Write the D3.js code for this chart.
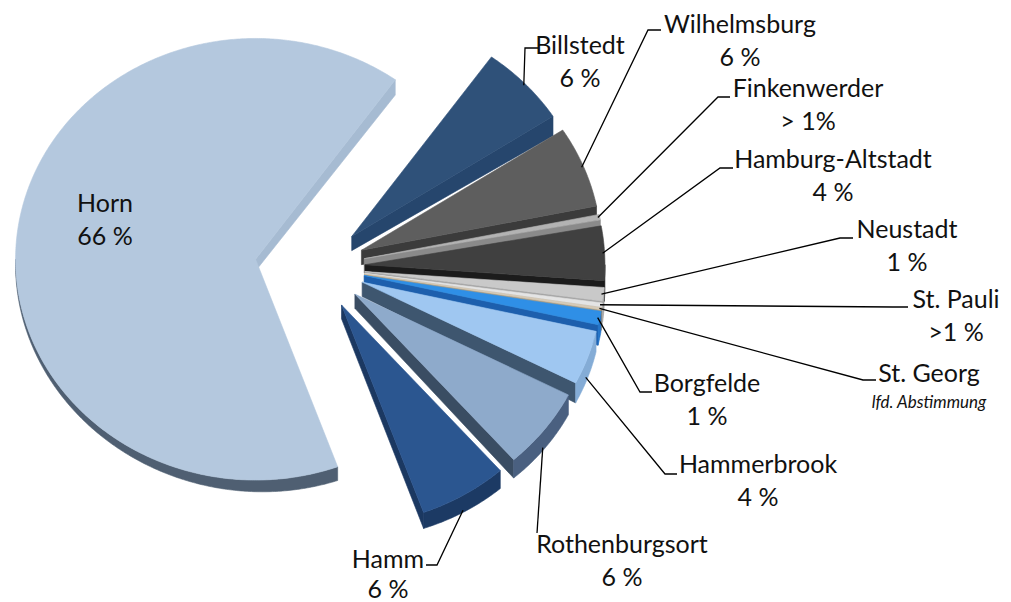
<!DOCTYPE html>
<html>
<head>
<meta charset="utf-8">
<script src="https://cdn.jsdelivr.net/npm/d3@7"></script>
<style>
  html, body { margin: 0; padding: 0; background: #ffffff; }
  svg { display: block; font-family: Lato, "Open Sans", sans-serif; }
</style>
</head>
<body>
<svg id="chart" width="1011" height="602"></svg>
<script>
// Districts and their shares (percent)
const districts = ["Horn", "Billstedt", "Wilhelmsburg", "Finkenwerder", "Hamburg-Altstadt",
  "Neustadt", "St. Pauli", "St. Georg", "Borgfelde", "Hammerbrook", "Rothenburgsort", "Hamm"];
const shares = [66, 6, 6, 0.4, 4, 1, 0.3, 0.15, 1, 4, 6, 6];
const shareLabels = ["66 %", "6 %", "6 %", "> 1%", "4 %", "1 %", ">1 %", "lfd. Abstimmung",
  "1 %", "4 %", "6 %", "6 %"];

// Slice colours: top face, cut (radial) faces, outer rim
const topColors  = ["#b4c8de", "#2f5179", "#5e5e5e", "#b3b3b3", "#404040", "#c9c9c9",
  "#e4e4e4", "#d6cbb8", "#2f8fe6", "#9fc7f1", "#8eaacb", "#2b5690"];
const sideColors = ["#a6bbd2", "#26466d", "#3b3b3b", "#8a8a8a", "#1c1c1c", "#a2a2a2",
  "#bbb4a6", "#b0a083", "#1d5fad", "#3e566f", "#3a4d63", "#1b3861"];
const rimColors  = ["#4f5f72", "#1f3a5c", "#3a3a3a", "#8a8a8a", "#202020", "#a0a0a0",
  "#b0b0b0", "#998a70", "#2474c8", "#84acd6", "#4a6080", "#1c3a64"];

// Pie geometry
const cx = 317, cy = 267, R = 240, ky = 0.92;
const explodeBy = [62, 48, 48, 48, 48, 48, 48, 48, 48, 48, 48, 48];
const depthAt = x => 5 + 0.026 * x;   // extrusion grows towards the right (perspective)
const deg = Math.PI / 180, TAU = 2 * Math.PI;
const startAngle = 160 * deg;

// Label placement (text centre, first baseline, leader elbow and end)
const labelLayout = [
  { x: 105, y: 212 },
  { x: 580, y: 54,  elbow: [525, 48],  end: [538, 48] },
  { x: 740, y: 33,  elbow: [648, 30],  end: [661, 30] },
  { x: 808, y: 97,  elbow: [718, 97],  end: [730, 97] },
  { x: 833, y: 168, elbow: [720, 168], end: [733, 168] },
  { x: 907, y: 238, elbow: [840, 238], end: [853, 238] },
  { x: 956, y: 308, elbow: [893, 307], end: [908, 307] },
  { x: 929, y: 382, elbow: [863, 380], end: [876, 380], note: true },
  { x: 707, y: 392, elbow: [640, 392], end: [652, 392] },
  { x: 758, y: 473, elbow: [665, 474], end: [677, 474] },
  { x: 622, y: 553, elbow: [537, 533], end: [537, 533] },
  { x: 388, y: 568, elbow: [437, 565], end: [426, 565], gap: 30 }
];

const svg = d3.select("#chart");

function pt(c, a, r) { return [c[0] + r * Math.sin(a), c[1] - r * Math.cos(a) * ky]; }
function down(p) { return [p[0], p[1] + depthAt(p[0])]; }
function arcPts(c, a0, a1) {
  const n = Math.max(2, Math.ceil((a1 - a0) / (0.5 * deg)));
  return d3.range(n + 1).map(k => pt(c, a0 + (a1 - a0) * k / n, R));
}

const pie = d3.pie().sort(null).value(d => d)
  .startAngle(startAngle).endAngle(startAngle + TAU);

const slices = pie(shares).map((d, i) => {
  const mid = (d.startAngle + d.endAngle) / 2;
  return { ...d, i, mid, c: pt([cx, cy], mid, explodeBy[i]) };
});

const closed = d3.line().curve(d3.curveLinearClosed);

// Side faces (cut faces and outer rim) that face the viewer
const sides = [];
slices.forEach(s => {
  [[s.startAngle, -1], [s.endAngle, 1]].forEach(([a, sgn]) => {
    if (sgn * Math.sin(a) > 1e-6) {
      const p = pt(s.c, a, R);
      sides.push({ poly: [s.c, p, down(p), down(s.c)], fill: sideColors[s.i] });
    }
  });
  for (let k = 0; k < 3; k++) {
    const lo = Math.max(s.startAngle, Math.PI / 2 + k * TAU);
    const hi = Math.min(s.endAngle, 1.5 * Math.PI + k * TAU);
    if (hi > lo) {
      const top = arcPts(s.c, lo, hi);
      const bottom = top.map(down).reverse();
      sides.push({ poly: top.concat(bottom), fill: rimColors[s.i] });
    }
  }
});
sides.forEach(f => { f.key = d3.mean(f.poly, p => p[1]); });
sides.sort((a, b) => a.key - b.key);

const g = svg.append("g");
g.selectAll("path.side").data(sides).join("path")
  .attr("class", "side")
  .attr("d", f => closed(f.poly))
  .attr("fill", f => f.fill)
  .attr("stroke", f => f.fill)
  .attr("stroke-width", 0.6)
  .attr("stroke-linejoin", "round");

g.selectAll("path.top").data(slices).join("path")
  .attr("class", "top")
  .attr("d", s => closed([s.c].concat(arcPts(s.c, s.startAngle, s.endAngle))))
  .attr("fill", s => topColors[s.i])
  .attr("stroke", s => topColors[s.i])
  .attr("stroke-width", 0.6)
  .attr("stroke-linejoin", "round");

// Leader lines
const leaderLine = d3.line();
const leaders = slices.filter(s => labelLayout[s.i].elbow).map(s => {
  let theta = ((s.mid - Math.PI / 2) % TAU + TAU) % TAU;
  if (theta > Math.PI) theta -= TAU;
  let p = pt(s.c, s.mid, R - 2);
  if (theta > 18 * deg) p = down(p);
  const L = labelLayout[s.i];
  return [p, L.elbow, L.end];
});
svg.append("g").selectAll("path").data(leaders).join("path")
  .attr("d", d => leaderLine(d))
  .attr("fill", "none")
  .attr("stroke", "#000")
  .attr("stroke-width", 1.3);

// Labels
const labels = svg.append("g").attr("fill", "#111").attr("text-anchor", "middle");
districts.forEach((name, i) => {
  const L = labelLayout[i];
  labels.append("text").attr("x", L.x).attr("y", L.y)
    .attr("font-size", 25).text(name);
  if (L.note) {
    labels.append("text").attr("x", L.x).attr("y", L.y + 26)
      .attr("font-size", 17).attr("font-style", "italic").text(shareLabels[i]);
  } else {
    labels.append("text").attr("x", L.x).attr("y", L.y + (L.gap || 33))
      .attr("font-size", 25).text(shareLabels[i]);
  }
});
</script>
</body>
</html>
